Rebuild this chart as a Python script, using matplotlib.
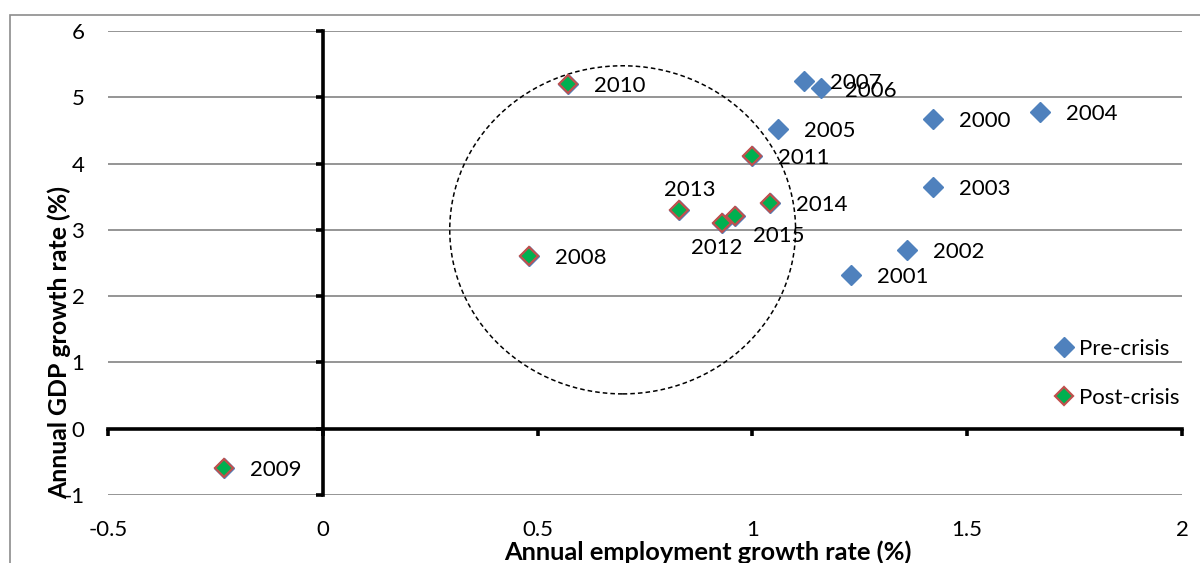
import matplotlib
matplotlib.use("Agg")
import matplotlib.pyplot as plt
from matplotlib.patches import Ellipse, Rectangle
from matplotlib.ticker import FormatStrFormatter

# ---------------------------- data ----------------------------
pre_years = ["2000", "2001", "2002", "2003", "2004", "2005", "2006", "2007"]
pre_emp = [1.42, 1.23, 1.36, 1.42, 1.67, 1.06, 1.16, 1.12]
pre_gdp = [4.67, 2.32, 2.70, 3.65, 4.78, 4.52, 5.14, 5.24]

post_years = ["2008", "2009", "2010", "2011", "2012", "2013", "2014", "2015"]
post_emp = [0.48, -0.23, 0.57, 1.00, 0.93, 0.83, 1.04, 0.96]
post_gdp = [2.61, -0.59, 5.20, 4.11, 3.10, 3.30, 3.40, 3.21]

x_ticks = [-0.5, 0, 0.5, 1, 1.5, 2]
y_ticks = [-1, 0, 1, 2, 3, 4, 5, 6]

# label offsets in pixels (style only)
offsets = {"2013": (10, 20), "2012": (-6, -25), "2015": (44, -20), "2006": (24, -3)}
default_off = (26, -2)

plt.rcParams["font.family"] = ["Lato", "DejaVu Sans"]
plt.rcParams["axes.unicode_minus"] = False

fig = plt.figure(figsize=(12, 5.63), dpi=100)
pos = [0.09, 0.1208, 0.895, 0.8242]
ax = fig.add_axes(pos)

# outer chart frame
fig.patches.append(Rectangle((10 / 1200, -0.1), 1.2, 0.1 + 1 - 15 / 563,
                             transform=fig.transFigure, fill=False,
                             edgecolor="#8c8c8c", lw=1.2))

ax.set_xlim(-0.5, 2)
ax.set_ylim(-1, 6)
ax.set_xticks(x_ticks)
ax.set_yticks(y_ticks)
for s in ["top", "right"]:
    ax.spines[s].set_visible(False)
for s in ["left", "bottom"]:
    ax.spines[s].set_position(("data", 0))
    ax.spines[s].set_linewidth(2.6)
    ax.spines[s].set_zorder(2)
ax.tick_params(direction="out", length=5, width=2.6,
               labelleft=False, labelbottom=False)
ax.yaxis.grid(True, color="#8c8c8c", lw=1.3)
ax.set_axisbelow(True)

# dashed circle around post-crisis cluster
ax.add_patch(Ellipse((0.698, 3.0), 0.805, 4.95, fill=False,
                     ls=(0, (3, 2)), lw=1.1, edgecolor="black", zorder=1))

ax.plot(pre_emp, pre_gdp, ls="none", marker="D", ms=10.5,
        color="#4F81BD", mec="#4F81BD", label="Pre-crisis", zorder=3)
ax.plot(post_emp, post_gdp, ls="none", marker="D", ms=10.2,
        color="#4F81BD", mec="#4F81BD", zorder=3)
ax.plot(post_emp, post_gdp, ls="none", marker="D", ms=9.0,
        color="#00B050", mec="#C0504D", mew=1.6, label="Post-crisis", zorder=4)

for yrs, xs, ys in [(pre_years, pre_emp, pre_gdp), (post_years, post_emp, post_gdp)]:
    for yr, x, y in zip(yrs, xs, ys):
        dx, dy = offsets.get(yr, default_off)
        ha = "center" if yr in offsets and yr != "2006" else "left"
        ax.annotate(yr, (x, y), xytext=(dx, dy), textcoords="offset pixels",
                    ha=ha, va="center", fontsize=16, zorder=5)

leg = ax.legend(loc="upper left", bbox_to_anchor=(0.88, 0.337), frameon=False,
                fontsize=16, handletextpad=0.15, labelspacing=1.3,
                handlelength=1.0, borderaxespad=0, borderpad=0)

# tick labels along the outer edges
lab = fig.add_axes(pos, frameon=False)
lab.set_xlim(-0.5, 2)
lab.set_ylim(-1, 6)
lab.set_xticks(x_ticks)
lab.set_yticks(y_ticks)
lab.xaxis.set_major_formatter(FormatStrFormatter("%g"))
lab.yaxis.set_major_formatter(FormatStrFormatter("%g"))
lab.tick_params(length=0, labelsize=16)
lab.tick_params(axis="x", pad=18)
lab.tick_params(axis="y", pad=17)
lab.patch.set_visible(False)
lab.set_xlabel("Annual employment growth rate (%)", fontsize=18.3,
               fontweight="bold", va="center")
lab.set_ylabel("Annual GDP growth rate (%)", fontsize=17.9,
               fontweight="bold", va="center")
lab.xaxis.set_label_coords(0.559, -0.123)
lab.yaxis.set_label_coords(-0.045, 0.328)

fig.savefig("out.png", dpi=100)
